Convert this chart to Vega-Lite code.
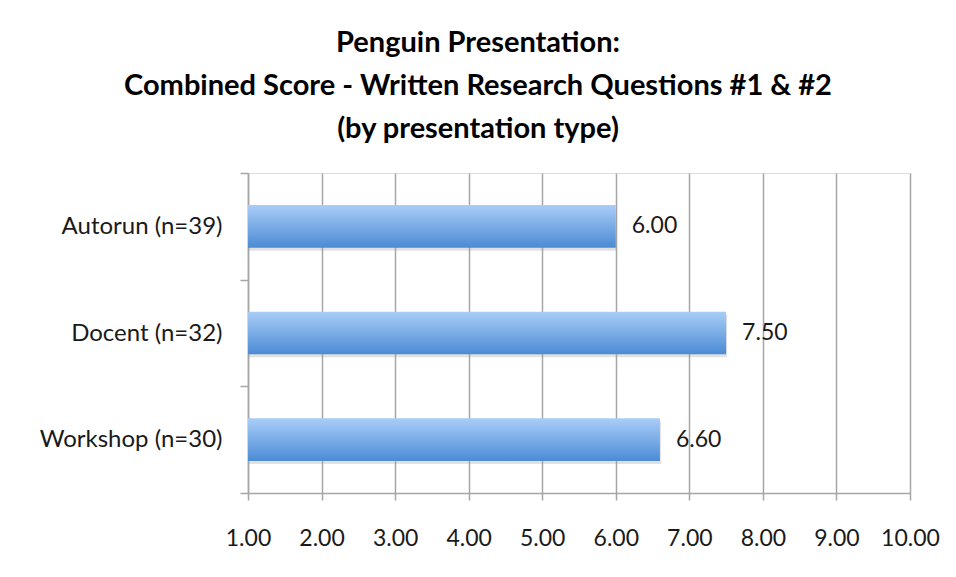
{
  "$schema": "https://vega.github.io/schema/vega-lite/v6.json",
  "width": 662,
  "height": 320,
  "autosize": {"type": "none"},
  "padding": {"left": 248, "top": 173, "right": 46, "bottom": 84},
  "background": "white",
  "title": {
    "text": ["Penguin Presentation:", "Combined Score - Written Research Questions #1 & #2", "(by presentation type)"],
    "font": "Lato",
    "fontSize": 29,
    "fontWeight": "bold",
    "color": "#000000",
    "lineHeight": 43,
    "anchor": "middle",
    "dx": -101,
    "offset": 17
  },
  "data": {
    "values": [
      {"type": "Autorun (n=39)", "score": 6.0},
      {"type": "Docent (n=32)", "score": 7.5},
      {"type": "Workshop (n=30)", "score": 6.6}
    ]
  },
  "encoding": {
    "y": {
      "field": "type",
      "type": "nominal",
      "sort": null,
      "title": null,
      "scale": {"paddingInner": 0, "paddingOuter": 0},
      "axis": {
        "tickBand": "extent",
        "tickSize": 8,
        "tickColor": "#a6a6a6",
        "tickWidth": 1.5,
        "domainColor": "#a6a6a6",
        "domainWidth": 1.5,
        "grid": false,
        "labelFont": "Lato",
        "labelFontSize": 24,
        "labelLimit": 0,
        "labelColor": "#1a1a1a",
        "labelPadding": 18
      }
    }
  },
  "layer": [
    {
      "mark": {"type": "bar", "color": "#9a9a9a", "opacity": 0.3, "yOffset": 3, "xOffset": 1, "height": {"band": 0.4}},
      "encoding": {
        "x": {"field": "score", "type": "quantitative"},
        "x2": {"datum": 1}
      }
    },
    {
      "mark": {
        "type": "bar",
        "height": {"band": 0.4},
        "color": {
          "gradient": "linear",
          "x1": 0, "y1": 0, "x2": 0, "y2": 1,
          "stops": [
            {"offset": 0, "color": "#aacdf7"},
            {"offset": 1, "color": "#4b8bd5"}
          ]
        }
      },
      "encoding": {
        "x": {
          "field": "score",
          "type": "quantitative",
          "title": null,
          "scale": {"domain": [1, 10], "nice": false, "zero": false},
          "axis": {
            "values": [1, 2, 3, 4, 5, 6, 7, 8, 9, 10],
            "format": ".2f",
            "labelOverlap": false,
            "labelFlush": false,
            "grid": true,
            "gridColor": "#a6a6a6",
            "gridWidth": 1.5,
            "tickColor": "#a6a6a6",
            "tickWidth": 1.5,
            "tickSize": 7,
            "domainColor": "#a6a6a6",
            "domainWidth": 1.5,
            "labelFont": "Lato",
            "labelFontSize": 23,
            "labelColor": "#1a1a1a",
            "labelPadding": 27
          }
        },
        "x2": {"datum": 1}
      }
    },
    {
      "mark": {"type": "text", "align": "left", "dx": 16, "font": "Lato", "fontSize": 23, "color": "#1a1a1a"},
      "encoding": {
        "x": {"field": "score", "type": "quantitative"},
        "text": {"field": "score", "type": "quantitative", "format": ".2f"}
      }
    }
  ]
}
